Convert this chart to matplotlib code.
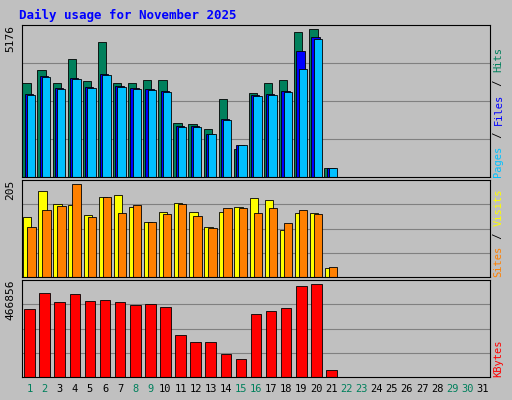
import numpy as np
import matplotlib.pyplot as plt

days = list(range(1, 32))
weekend = [1, 2, 8, 9, 15, 16, 22, 23, 29, 30]

hits = [3201, 3643, 3201, 4018, 3269, 4597, 3201, 3201, 3303, 3303, 1839, 1805, 1635, 2656, 953,
        2860, 3201, 3303, 4938, 5040, 306]
files = [2830, 3430, 3020, 3370, 3060, 3510, 3090, 3020, 2990, 2920, 1730, 1720, 1480, 1990, 1100,
         2790, 2820, 2920, 4300, 4760, 310]
pages = [2792, 3405, 2996, 3337, 3030, 3473, 3064, 2996, 2962, 2894, 1703, 1703, 1465, 1941, 1090,
         2758, 2792, 2894, 3677, 4700, 306]
visits = [127, 182, 154, 152, 131, 169, 173, 148, 116, 137, 156, 137, 106, 137, 148, 167, 163, 99, 135, 135, 19]
sites = [106, 142, 150, 197, 127, 169, 135, 152, 116, 133, 154, 129, 104, 146, 146, 135, 146, 114, 142, 133, 21]
kbytes = [327000, 404000, 361000, 399000, 366000, 371000, 361000, 347000, 351000, 337000, 202000, 168000,
          168000, 111000, 87000, 303000, 318000, 332000, 438000, 448000, 34000]

max_hits = 5176
max_visits = 205
max_kb = 466856

W, H = 512, 400
fig = plt.figure(figsize=(5.12, 4.0), dpi=100)
fig.patch.set_facecolor('#C0C0C0')
fig.text(19 / W, 1 - 15 / H, 'Daily usage for November 2025', color='#0000FF', fontsize=9,
         family='DejaVu Sans Mono', weight='bold', va='center')


def panel(top, bottom):
    ax = fig.add_axes([22 / W, 1 - bottom / H, 468 / W, (bottom - top) / H])
    ax.set_facecolor('#C0C0C0')
    ax.set_xlim(0.5, 31.5)
    ax.set_xticks([])
    ax.set_yticks([])
    for s in ax.spines.values():
        s.set_color('black')
    return ax


def draw(ax, series, colors, offsets, width, ymax, label, right, step):
    ax.set_ylim(0, ymax)
    for fr in [0.25, 0.5, 0.75]:
        ax.axhline(ymax * fr, color='#808080', lw=0.8, zorder=0)
    n = len(series[0])
    x = np.arange(1, n + 1)
    for vals, c, off in zip(series, colors, offsets):
        ax.bar(x + off, vals, width=width, color=c, edgecolor='black', linewidth=0.6, zorder=2)
    ax.text(-0.025, 1.0, label, transform=ax.transAxes, rotation=90, ha='center', va='top',
            fontsize=8, family='DejaVu Sans Mono')
    y = 0.0
    for txt, c in right:
        ax.text(1.018, y, txt, transform=ax.transAxes, rotation=90, ha='center', va='bottom',
                fontsize=7.5, family='DejaVu Sans Mono', color=c)
        y += len(txt) * step


ax1 = panel(25, 177)
draw(ax1, [hits, files, pages], ['#00805C', '#0000FF', '#00C0FF'], [-0.2, -0.05, 0.1], 0.55, max_hits,
     str(max_hits), [('Pages', '#00C0FF'), (' / ', 'black'), ('Files', '#0000FF'), (' / ', 'black'),
                     ('Hits', '#00805C')], 0.043)
ax2 = panel(180, 277)
draw(ax2, [visits, sites], ['#FFFF00', '#FF8000'], [-0.15, 0.12], 0.55, max_visits,
     str(max_visits), [('Sites', '#FF8000'), (' / ', 'black'), ('Visits', '#FFFF00')], 0.066)
ax3 = panel(280, 377)
draw(ax3, [kbytes], ['#FF0000'], [0.0], 0.7, max_kb, str(max_kb), [('KBytes', '#FF0000')], 0.066)

for d in days:
    fig.text((22 + (d - 0.5) * 468 / 31) / W, 1 - 389 / H, str(d), ha='center', va='center',
             fontsize=7.5, family='DejaVu Sans Mono', color='#00805C' if d in weekend else 'black')

fig.savefig('out.png', dpi=100, facecolor=fig.get_facecolor())
